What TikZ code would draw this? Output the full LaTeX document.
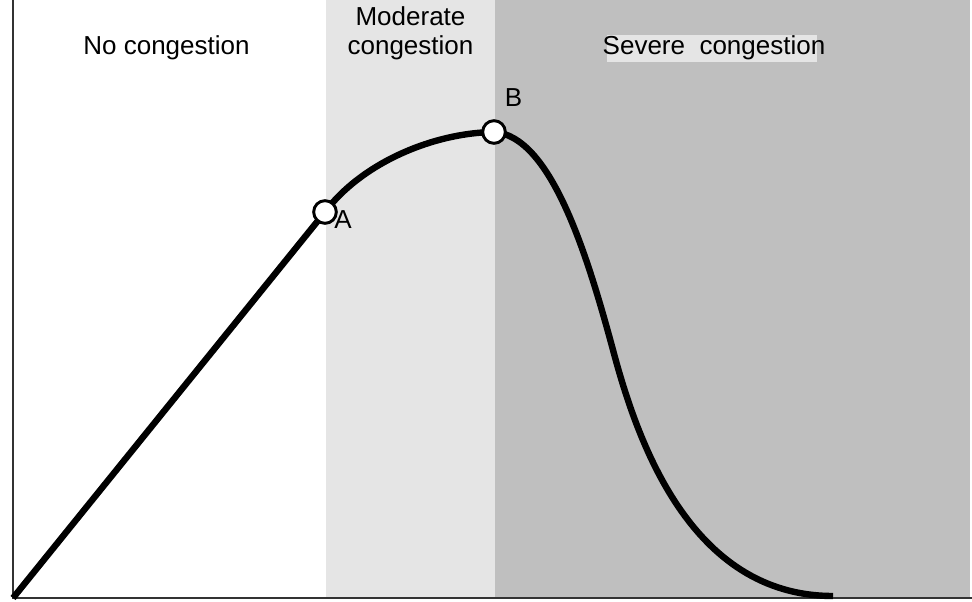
\documentclass[tikz,border=0pt]{standalone}
\usepackage{fontspec}
\setmainfont{Liberation Sans}
\begin{document}
\begin{tikzpicture}[x=0.75pt,y=-0.75pt,
  lbl/.style={font=\fontsize{19.5}{21.75}\selectfont, text=black, inner sep=0pt, anchor=base},
  pointmark/.style={circle, draw=black, line width=2.2pt, fill=white, minimum size=17pt, inner sep=0pt},
  flowcurve/.style={line width=4.8pt, line join=round},
  axisline/.style={line width=1.6pt, draw=black!80}]
  \useasboundingbox (0,0) rectangle (972,602);
  \fill[white] (0,0) rectangle (972,602);

  % congestion regimes
  \fill[gray!20] (326,0) rectangle (495,597);
  \fill[black!25] (495,0) rectangle (970,597);
  \fill[gray!20] (607,35) rectangle (817,62);

  % regime labels
  \node[lbl] (none) at (166.5,55) {No congestion};
  \node[lbl] (mod1) at (410.5,26) {Moderate};
  \node[lbl] (mod2) at (410.5,55) {congestion};
  \node[lbl] (sev) at (714,55) {Severe\ \ congestion};

  % curve key points
  \coordinate (O) at (13,598);
  \coordinate (Pa) at (325,212);
  \coordinate (Pb) at (494,132);
  \coordinate (Pi) at (613,350);
  \coordinate (E) at (833,596);

  % axes
  \draw[axisline] (13,0) -- (O) -- (972,598);

  % speed-flow curve
  \draw[flowcurve] (O) -- (Pa)
    .. controls (360,165) and (430,133) .. (Pb)
    .. controls (550,136) and (586,250) .. (Pi)
    .. controls (637,440) and (690,596) .. (E);

  % marked points
  \node[pointmark] (A) at (Pa) {};
  \node[pointmark] (B) at (Pb) {};
  \node[lbl] (labA) at (343,229) {A};
  \node[lbl] (labB) at (513.5,107) {B};
\end{tikzpicture}
\end{document}
